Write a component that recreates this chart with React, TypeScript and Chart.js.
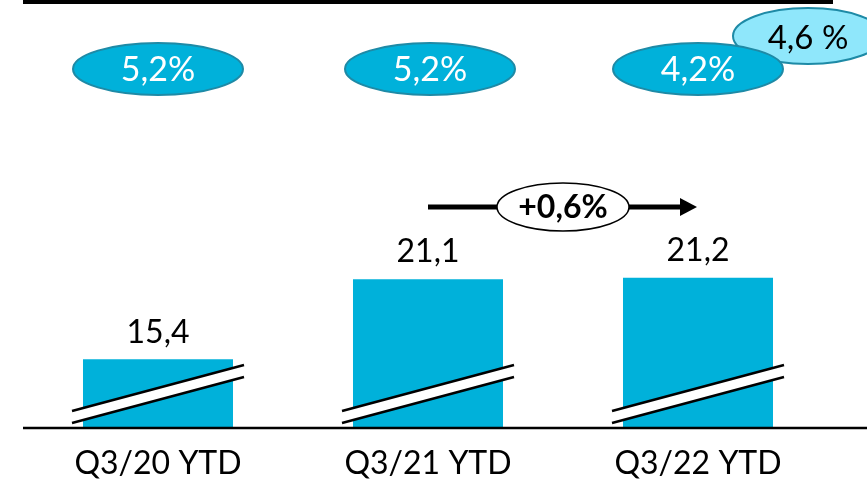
import React, { useEffect, useRef } from "react";
import { Chart, registerables } from "chart.js";

Chart.register(...registerables);

const categories = ["Q3/20 YTD", "Q3/21 YTD", "Q3/22 YTD"];
const values = [15.4, 21.1, 21.2];
const valueLabels = ["15,4", "21,1", "21,2"];
const marginLabels = ["5,2%", "5,2%", "4,2%"];
const targetLabel = "4,6 %";
const growthLabel = "+0,6%";

const BAR = "#00B1DA";
const ELLIPSE_STROKE = "#1E8AA6";
const LIGHT = "#8FE7FB";
const FONT = "Lato, 'Open Sans', sans-serif";

function ellipse(ctx: CanvasRenderingContext2D, cx: number, cy: number, rx: number, ry: number, fill: string, stroke: string, lw: number) {
  ctx.beginPath();
  ctx.ellipse(cx, cy, rx, ry, 0, 0, Math.PI * 2);
  ctx.fillStyle = fill;
  ctx.fill();
  ctx.lineWidth = lw;
  ctx.strokeStyle = stroke;
  ctx.stroke();
}

const decorPlugin = {
  id: "decor",
  afterDatasetsDraw(chart: any) {
    const ctx: CanvasRenderingContext2D = chart.ctx;
    const area = chart.chartArea;
    const meta = chart.getDatasetMeta(0);
    const bottom = area.bottom;
    ctx.save();
    // axis line
    ctx.beginPath();
    ctx.moveTo(23, bottom);
    ctx.lineTo(chart.width, bottom);
    ctx.lineWidth = 2.5;
    ctx.strokeStyle = "#000";
    ctx.stroke();

    meta.data.forEach((bar: any, i: number) => {
      const cx = bar.x;
      // break band
      const x0 = cx - 86, x1 = cx + 86;
      ctx.beginPath();
      ctx.moveTo(x0, bottom - 17);
      ctx.lineTo(x1, bottom - 63);
      ctx.lineTo(x1, bottom - 51);
      ctx.lineTo(x0, bottom - 5);
      ctx.closePath();
      ctx.fillStyle = "#fff";
      ctx.fill();
      ctx.lineWidth = 2.5;
      ctx.strokeStyle = "#000";
      ctx.beginPath();
      ctx.moveTo(x0, bottom - 17);
      ctx.lineTo(x1, bottom - 63);
      ctx.stroke();
      ctx.beginPath();
      ctx.moveTo(x0, bottom - 5);
      ctx.lineTo(x1, bottom - 51);
      ctx.stroke();

      // value label
      ctx.fillStyle = "#000";
      ctx.font = `32px ${FONT}`;
      ctx.textAlign = "center";
      ctx.textBaseline = "middle";
      ctx.fillText(valueLabels[i], cx, bar.y - 27);
    });

    // top black rule
    ctx.fillStyle = "#000";
    ctx.fillRect(23, 0, 810, 4);

    // margin ellipses
    const xs = meta.data.map((b: any) => b.x);
    const offs = [0, 2, 0];
    // light target ellipse first (behind the third)
    ellipse(ctx, 808, 36, 75, 28, LIGHT, ELLIPSE_STROKE, 2);
    ctx.fillStyle = "#000";
    ctx.font = `33px ${FONT}`;
    ctx.textAlign = "center";
    ctx.textBaseline = "middle";
    ctx.fillText(targetLabel, 808, 38);

    marginLabels.forEach((t, i) => {
      const cx = xs[i] + offs[i];
      ellipse(ctx, cx, 69, 85, 26, BAR, ELLIPSE_STROKE, 2);
      ctx.fillStyle = "#fff";
      ctx.font = `34px ${FONT}`;
      ctx.textAlign = "center";
      ctx.textBaseline = "middle";
      ctx.fillText(t, cx, 70);
    });

    // growth arrow
    const ay = 207;
    ctx.beginPath();
    ctx.moveTo(428, ay);
    ctx.lineTo(682, ay);
    ctx.lineWidth = 5;
    ctx.strokeStyle = "#000";
    ctx.stroke();
    ctx.beginPath();
    ctx.moveTo(680, ay - 9);
    ctx.lineTo(697, ay);
    ctx.lineTo(680, ay + 9);
    ctx.closePath();
    ctx.fillStyle = "#000";
    ctx.fill();
    ellipse(ctx, 563, ay, 66, 24, "#fff", "#000", 1.5);
    ctx.fillStyle = "#000";
    ctx.font = `bold 32px ${FONT}`;
    ctx.textAlign = "center";
    ctx.textBaseline = "middle";
    ctx.fillText(growthLabel, 563, ay + 1);
    ctx.restore();
  },
};

export default function App() {
  const ref = useRef<HTMLCanvasElement>(null);
  useEffect(() => {
    if (!ref.current) return;
    const chart = new Chart(ref.current, {
      type: "bar",
      data: {
        labels: categories,
        datasets: [
          {
            data: values,
            backgroundColor: BAR,
            borderWidth: 0,
            barPercentage: 0.5556,
            categoryPercentage: 1,
          },
        ],
      },
      options: {
        animation: false,
        responsive: false,
        layout: { padding: { top: 98, left: 23, right: 34, bottom: 0 } },
        plugins: { legend: { display: false }, tooltip: { enabled: false } },
        scales: {
          y: { display: false, min: 10.5, max: 34 },
          x: {
            grid: { display: false, drawTicks: false },
            border: { display: false },
            ticks: { color: "#000", font: { family: FONT, size: 32 }, padding: 16 },
            afterFit: (scale: any) => {
              scale.height = 53;
            },
          },
        },
      },
      plugins: [decorPlugin],
    });
    return () => chart.destroy();
  }, []);
  return (
    <div style={{ position: "absolute", left: 0, top: 0, width: 867, height: 481, background: "#fff" }}>
      <canvas ref={ref} width={867} height={481} />
    </div>
  );
}
